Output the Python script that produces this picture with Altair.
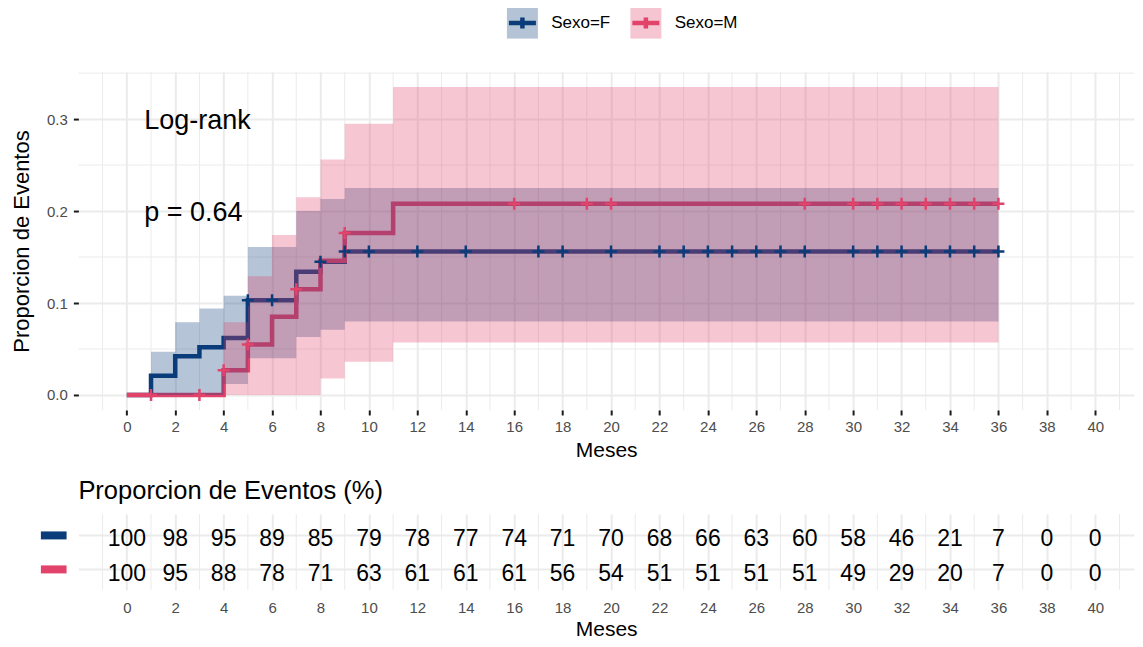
import altair as alt
import pandas as pd

BLUE = "#0B3C7A"
PINK = "#E1436B"
GRID = "#EBEBEB"
FONT = "Liberation Sans"

groups = ["Sexo=F", "Sexo=M"]

# Cumulative event curves (value after each step), with confidence bands
f_time = [0, 1, 2, 3, 4, 5, 7, 8, 9, 36]
f_est = [0.0, 0.021, 0.042, 0.052, 0.062, 0.103, 0.134, 0.145, 0.156, 0.156]
f_low = [0.0, 0.0, 0.0, 0.0, 0.012, 0.040, 0.063, 0.071, 0.080, 0.080]
f_up = [0.0, 0.047, 0.079, 0.094, 0.108, 0.161, 0.200, 0.213, 0.225, 0.225]

m_time = [0, 4, 5, 6, 7, 8, 9, 11, 36]
m_est = [0.0, 0.027, 0.055, 0.085, 0.115, 0.146, 0.176, 0.208, 0.208]
m_low = [0.0, 0.0, 0.0, 0.0, 0.0, 0.018, 0.036, 0.057, 0.057]
m_up = [0.0, 0.079, 0.129, 0.174, 0.215, 0.256, 0.295, 0.335, 0.335]

# censoring times
f_censor = [5, 6, 8, 9, 10, 12, 14, 17, 18, 20, 22, 23, 24, 25, 26, 27, 28,
            30, 31, 32, 33, 34, 35, 36]
m_censor = [1, 3, 4, 5, 7, 9, 16, 19, 20, 28, 30, 31, 32, 33, 34, 35, 36]

# table
table_time = list(range(0, 41, 2))
f_pct = [100, 98, 95, 89, 85, 79, 78, 77, 74, 71, 70, 68, 66, 63, 60, 58, 46, 21, 7, 0, 0]
m_pct = [100, 95, 88, 78, 71, 63, 61, 61, 61, 56, 54, 51, 51, 51, 51, 49, 29, 20, 7, 0, 0]

annot_text = ["Log-rank", "p = 0.64"]
annot_v = [0.3, 0.2]

minor_x = list(range(-1, 42, 2))
minor_y = [0.05, 0.15, 0.25, 0.35]


def step_value(times, vals, t):
    out = vals[0]
    for tt, vv in zip(times, vals):
        if tt <= t:
            out = vv
    return out


curve_rows = []
for g, tms, est, lo, up in [(groups[0], f_time, f_est, f_low, f_up),
                            (groups[1], m_time, m_est, m_low, m_up)]:
    for a, b, c, d in zip(tms, est, lo, up):
        curve_rows.append({"t": a, "v": b, "lo": c, "up": d, "Sexo": g, "SexoL": g})
curves = pd.DataFrame(curve_rows)

cens_f = pd.DataFrame({"t": f_censor, "v": [step_value(f_time, f_est, c) for c in f_censor]})
cens_m = pd.DataFrame({"t": m_censor, "v": [step_value(m_time, m_est, c) for c in m_censor]})

LABEL_X = 0.72
annot = pd.DataFrame({"t": [LABEL_X] * 2, "v": annot_v, "label": annot_text})

tbl = pd.DataFrame({
    "t": table_time * 2,
    "Sexo": [groups[0]] * len(table_time) + [groups[1]] * len(table_time),
    "pct": f_pct + m_pct,
})

W = 1056
x_scale = alt.Scale(domain=[-2, 41.6], nice=False, zero=False)
y_scale = alt.Scale(domain=[-0.0163, 0.3511], nice=False, zero=False)

x_axis_main = alt.Axis(values=table_time, title="Meses", labelFontSize=15,
                       labelColor="#4D4D4D", labelFont=FONT, titleFont=FONT,
                       titleFontSize=21, titleFontWeight="normal", titleColor="black",
                       tickColor="#1A1A1A", tickWidth=2, tickSize=5, domain=False,
                       grid=True, gridColor=GRID, gridWidth=2, labelPadding=5,
                       titlePadding=5, labelFlush=False, labelOverlap=False)
y_axis_main = alt.Axis(values=[0, 0.1, 0.2, 0.3], format=".1f",
                       title="Proporcion de Eventos", labelFontSize=15,
                       labelColor="#4D4D4D", labelFont=FONT, titleFont=FONT,
                       titleFontSize=22, titleFontWeight="normal", titleColor="black",
                       tickColor="#1A1A1A", tickWidth=2, tickSize=5, domain=False,
                       grid=True, gridColor=GRID, gridWidth=2, labelPadding=6,
                       titlePadding=18, titleBaseline="alphabetic", labelFlush=False)

X = alt.X("t:Q", scale=x_scale, axis=x_axis_main)
Y = alt.Y("v:Q", scale=y_scale, axis=y_axis_main)

LEG_X = 426.2
LEG_Y = -67.25
SW = 4.5
common_leg = dict(orient="none", legendX=LEG_X, legendY=LEG_Y, direction="horizontal",
                  title=None, symbolSize=961, symbolStrokeWidth=SW, symbolOffset=0,
                  labelFontSize=17, labelFont=FONT, labelOffset=10.8,
                  columnPadding=10.5, padding=0)
fill_legend = alt.Legend(symbolType="square", symbolOpacity=0.3,
                         symbolStrokeColor="transparent", labelColor="black",
                         **common_leg)
stroke_legend = alt.Legend(symbolType="M-1,-1M1,1M-0.871,0H0.871M0,-0.355V0.355",
                           symbolOpacity=1, symbolFillColor="transparent",
                           labelColor="transparent", **common_leg)

fill_enc = alt.Fill("Sexo:N", scale=alt.Scale(domain=groups, range=[BLUE, PINK]),
                    legend=fill_legend)
stroke_enc = alt.Stroke("SexoL:N", scale=alt.Scale(range=[BLUE, PINK]),
                        legend=stroke_legend)

minor_vx = alt.Chart(pd.DataFrame({"t": minor_x})).mark_rule(
    color=GRID, strokeWidth=1).encode(x=X)
minor_hy = alt.Chart(pd.DataFrame({"v": minor_y})).mark_rule(
    color=GRID, strokeWidth=1).encode(y=Y)

lines = alt.Chart(curves).mark_line(interpolate="step-after", strokeWidth=SW).encode(
    x=X, y=Y, stroke=stroke_enc)
bands = alt.Chart(curves).mark_area(interpolate="step-after", opacity=0.3).encode(
    x=X, y=alt.Y("lo:Q", scale=y_scale, axis=y_axis_main), y2="up:Q", fill=fill_enc)
CROSS = "M-1,0H1M0,-1V1"
marks_f = alt.Chart(cens_f).mark_point(shape=CROSS, size=144, strokeWidth=2.5,
                                       filled=False, opacity=1, stroke=BLUE).encode(x=X, y=Y)
marks_m = alt.Chart(cens_m).mark_point(shape=CROSS, size=144, strokeWidth=2.5,
                                       filled=False, opacity=1, stroke=PINK).encode(x=X, y=Y)
texts = alt.Chart(annot).mark_text(align="left", baseline="middle", fontSize=27,
                                   font=FONT, color="black", dy=2).encode(
    x=X, y=Y, text="label:N")

main = alt.layer(minor_vx, minor_hy, lines, bands, marks_f, marks_m, texts).properties(
    width=W, height=338)

# ---- table ----
x_axis_tbl = alt.Axis(values=table_time, title="Meses", labelFontSize=15,
                      labelColor="#4D4D4D", labelFont=FONT, titleFont=FONT,
                      titleFontSize=21, titleFontWeight="normal", titleColor="black",
                      ticks=False, tickSize=0, domain=False, grid=True, gridColor=GRID,
                      gridWidth=2, labelPadding=10.7, titlePadding=2.6,
                      labelFlush=False, labelOverlap=False)
y_axis_tbl = alt.Axis(title=None, labels=False, domain=False, ticks=True,
                      tickSize=25.7, tickWidth=8, offset=12.3,
                      tickColor={"condition": {"test": "datum.value === 'Sexo=F'",
                                               "value": BLUE}, "value": PINK},
                      grid=True, gridColor=GRID, gridWidth=2)

XT = alt.X("t:Q", scale=x_scale, axis=x_axis_tbl)
tbl_minor = alt.Chart(pd.DataFrame({"t": minor_x})).mark_rule(
    color=GRID, strokeWidth=1).encode(x=XT)
tbl_text = alt.Chart(tbl).mark_text(fontSize=23, font=FONT, color="black",
                                    baseline="middle", dy=4.5).encode(
    x=XT,
    y=alt.Y("Sexo:N", scale=alt.Scale(type="point", domain=groups, padding=0.6),
            axis=y_axis_tbl),
    text="pct:Q")

table = alt.layer(tbl_minor, tbl_text).properties(
    width=W, height=76,
    title=alt.TitleParams("Proporcion de Eventos (%)", anchor="start", frame="group",
                          fontSize=25.5, font=FONT, fontWeight="normal", color="black",
                          baseline="alphabetic", offset=-11))

chart = alt.vconcat(main, table, spacing=18).resolve_legend(
    fill="independent", stroke="independent").properties(
    padding={"left": 2.4, "top": -4, "right": 0, "bottom": 0},
    background="white").configure_view(stroke=None)

chart.save("out.html", embed_options={"renderer": "svg", "actions": False})
